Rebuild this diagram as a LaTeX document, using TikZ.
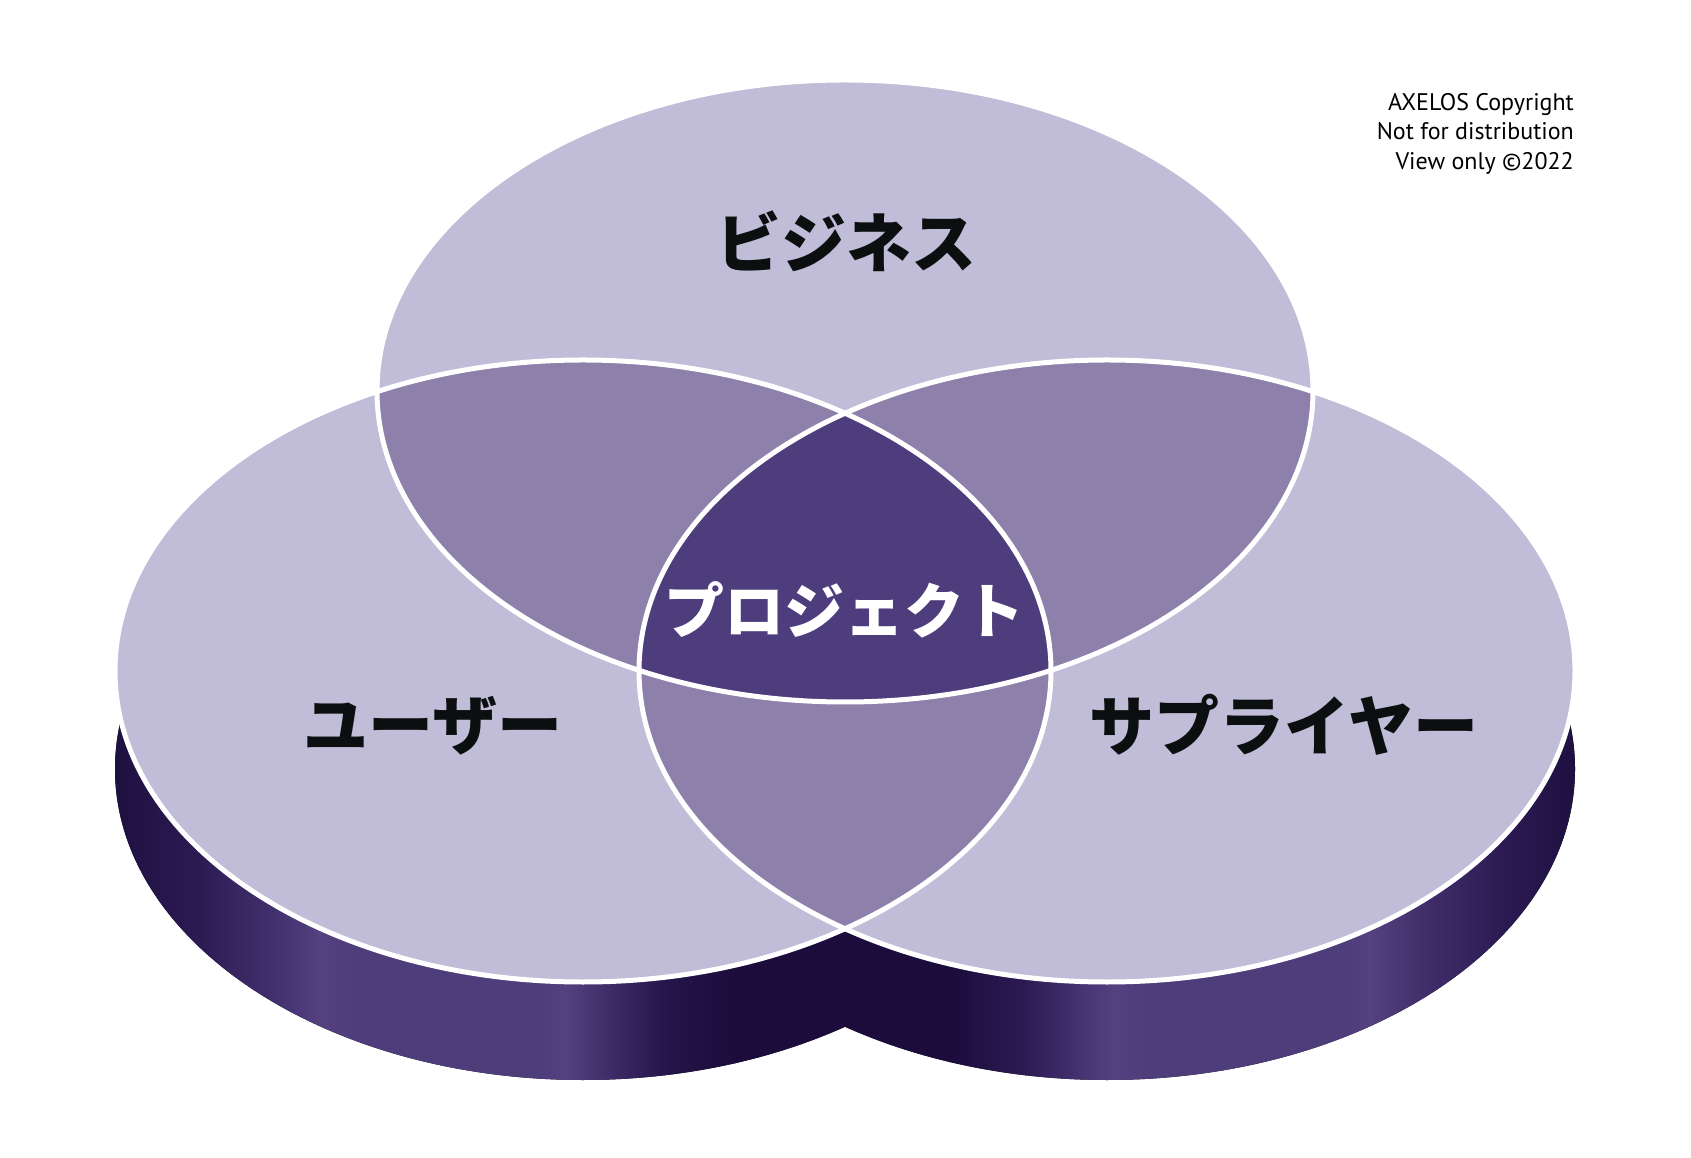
\documentclass[tikz,border=0pt]{standalone}
\usepackage{fontspec}
\newfontfamily\jp{Noto Sans CJK JP Black}
\newfontfamily\cpy{PT Sans}
\definecolor{lav}{HTML}{C1BCD7}
\definecolor{midp}{HTML}{8D80AB}
\definecolor{core}{HTML}{4E3D7C}
\definecolor{ink}{HTML}{0B0F10}
\definecolor{b0}{HTML}{1C0E3E}
\definecolor{b1}{HTML}{2C1B53}
\definecolor{b2}{HTML}{4A3878}
\definecolor{b3}{HTML}{54417F}
\definecolor{b4}{HTML}{4E3D7B}
\definecolor{b5}{HTML}{3F2E6A}
\definecolor{b6}{HTML}{24154A}
\definecolor{b7}{HTML}{1B0C3C}
\tikzset{
  bigjp/.style={font=\jp\fontsize{65}{70}\selectfont, text=ink, inner sep=0pt},
  corejp/.style={font=\jp\fontsize{60}{66}\selectfont, text=white, inner sep=0pt},
  copytext/.style={font=\cpy\fontsize{24}{29}\selectfont, text=black, inner sep=0pt, anchor=base east},
  rim/.style={draw=white, line width=5pt},
  ell/.style={x radius=468, y radius=311}
}
\begin{document}
\begin{tikzpicture}[x=1pt,y=1pt]
\fill[white] (0,0) rectangle (1691,1157);
\useasboundingbox (0,0) rectangle (1691,1157);
% base (extrusion)
\begin{scope}
\clip (583,388) ellipse [ell] (1107,388) ellipse [ell];
\def\seg#1#2#3#4{\fill[left color=#3, right color=#4] (#1,60) rectangle (#2,520);}
\seg{100}{200.5}{b0}{b1}
\seg{200}{300.5}{b1}{b2}
\seg{300}{318.5}{b2}{b3}
\seg{318}{360.5}{b3}{b4}
\seg{360}{540.5}{b4}{b4}
\seg{540}{566.5}{b4}{b3}
\seg{566}{605.5}{b3}{b5}
\seg{605}{665.5}{b5}{b6}
\seg{665}{735.5}{b6}{b7}
\seg{735}{950.5}{b7}{b7}
\seg{950}{1025.5}{b7}{b1}
\seg{1025}{1092.5}{b1}{b2}
\seg{1092}{1114.5}{b2}{b3}
\seg{1114}{1145.5}{b3}{b4}
\seg{1145}{1345.5}{b4}{b4}
\seg{1345}{1370.5}{b4}{b3}
\seg{1370}{1425.5}{b3}{b5}
\seg{1425}{1500.5}{b5}{b1}
\seg{1500}{1590}{b1}{b0}
\end{scope}
% top faces
\fill[lav] (845,766) ellipse [ell];
\fill[lav] (583,486) ellipse [ell];
\fill[lav] (1107,486) ellipse [ell];
\begin{scope}
\clip (845,766) ellipse [ell];
\fill[midp] (583,486) ellipse [ell];
\fill[midp] (1107,486) ellipse [ell];
\end{scope}
\begin{scope}
\clip (583,486) ellipse [ell];
\fill[midp] (1107,486) ellipse [ell];
\end{scope}
\begin{scope}
\clip (845,766) ellipse [ell];
\clip (583,486) ellipse [ell];
\fill[core] (1107,486) ellipse [ell];
\end{scope}
\draw[rim] (845,766) ellipse [ell];
\draw[rim] (583,486) ellipse [ell];
\draw[rim] (1107,486) ellipse [ell];
% labels
\node[bigjp] (business) at (846,916) {ビジネス};
\node[bigjp] (user) at (433,431) {ユーザー};
\node[bigjp] (supplier) at (1284,432) {サプライヤー};
\node[corejp] (project) at (844,547) {プロジェクト};
\node[copytext] (copy1) at (1574,1046) {AXELOS Copyright};
\node[copytext] (copy2) at (1574,1017) {Not for distribution};
\node[copytext] (copy3) at (1574,987) {View only ©2022};
\end{tikzpicture}
\end{document}
